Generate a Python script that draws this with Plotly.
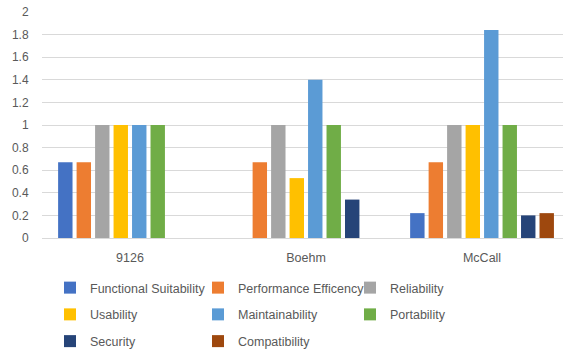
import plotly.graph_objects as go

categories = ["9126", "Boehm", "McCall"]
series_names = ["Functional Suitability", "Performance Efficency", "Reliability",
                "Usability", "Maintainability", "Portability", "Security", "Compatibility"]
functional_suitability = [0.67, None, 0.22]
performance_efficency = [0.67, 0.67, 0.67]
reliability = [1.0, 1.0, 1.0]
usability = [1.0, 0.53, 1.0]
maintainability = [1.0, 1.4, 1.84]
portability = [1.0, 1.0, 1.0]
security = [None, 0.34, 0.2]
compatibility = [None, None, 0.22]
series_values = [functional_suitability, performance_efficency, reliability, usability,
                 maintainability, portability, security, compatibility]
colors = ["#4472C4", "#ED7D31", "#A5A5A5", "#FFC000", "#5B9BD5", "#70AD47", "#264478", "#9E480E"]
y_ticks = [0, 0.2, 0.4, 0.6, 0.8, 1, 1.2, 1.4, 1.6, 1.8, 2]
y_tick_text = ["0", "0.2", "0.4", "0.6", "0.8", "1", "1.2", "1.4", "1.6", "1.8", "2"]

# legend column assignment (Excel-like 3-column legend)
legend_ids = ["legend", "legend2", "legend3", "legend", "legend2", "legend3", "legend", "legend2"]

FONT = "Liberation Sans"
TXT = "#595959"

fig = go.Figure()
for i, (name, vals) in enumerate(zip(series_names, series_values)):
    fig.add_trace(go.Bar(
        x=categories, y=vals, name=name,
        marker=dict(color=colors[i], line=dict(width=0)),
        legend=legend_ids[i], legendgroup=name,
    ))

W, H = 563, 353
ml, mr, mt, mb = 42, 0, 12, 115

def cx(p):
    return p / W

def cy(p):
    return 1 - p / H

leg_common = dict(orientation="v", yanchor="top", xanchor="left",
                  xref="container", yref="container",
                  font=dict(family=FONT, size=12.5, color=TXT),
                  bgcolor="rgba(0,0,0,0)", tracegroupgap=7.5, itemwidth=30)
top = cy(273)
fig.update_layout(
    width=W, height=H,
    margin=dict(l=ml, r=mr, t=mt, b=mb, pad=0, autoexpand=False),
    paper_bgcolor="white", plot_bgcolor="white",
    barmode="group", bargap=0.16, bargroupgap=0.22,
    font=dict(family=FONT, size=12, color=TXT),
    legend=dict(x=cx(50), y=top, **leg_common),
    legend2=dict(x=cx(198), y=top, **leg_common),
    legend3=dict(x=cx(350), y=top, **leg_common),
    xaxis=dict(type="category", range=[-0.5, 2.46], showgrid=False,
               showline=True, linecolor="#D9D9D9", linewidth=1,
               ticks="outside", ticklen=8, tickcolor="rgba(0,0,0,0)",
               tickfont=dict(family=FONT, size=12.5, color=TXT), fixedrange=True),
    yaxis=dict(range=[0, 2], tickvals=y_ticks, ticktext=y_tick_text,
               showgrid=True, gridcolor="#D9D9D9", gridwidth=1,
               zeroline=True, zerolinecolor="#D9D9D9", zerolinewidth=1,
               showline=False, ticks="outside", ticklen=10, tickcolor="rgba(0,0,0,0)",
               tickfont=dict(family=FONT, size=12, color=TXT), fixedrange=True),
)

fig.write_html("out.html")
